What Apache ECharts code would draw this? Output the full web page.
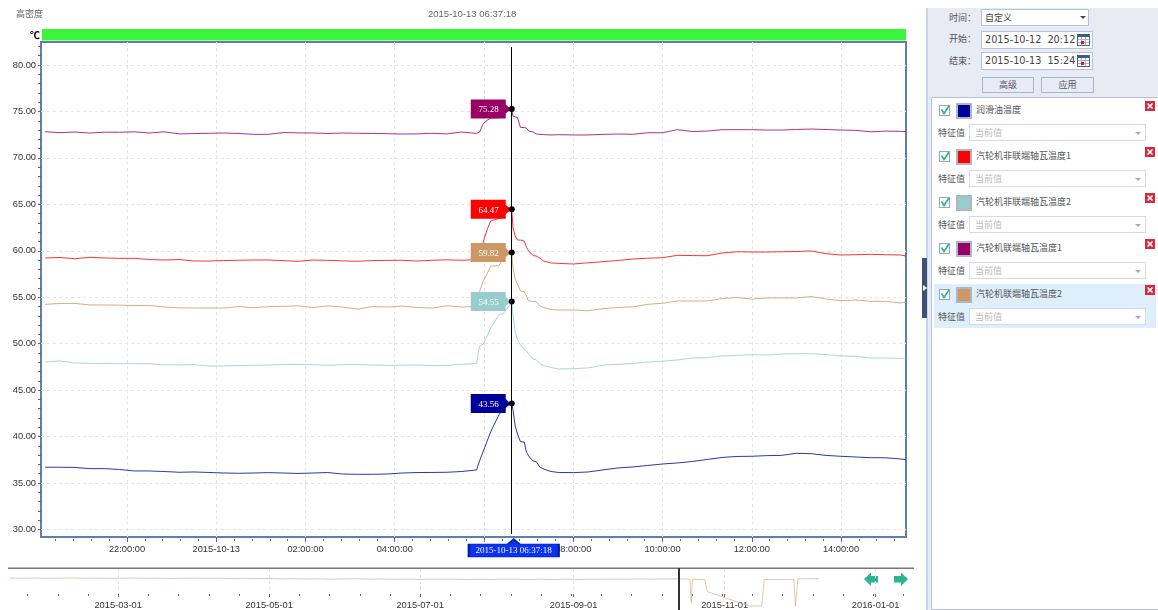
<!DOCTYPE html>
<html>
<head>
<meta charset="utf-8">
<title>高密度</title>
<script src="https://cdn.jsdelivr.net/npm/echarts@6/dist/echarts.min.js"></script>
<style>
  html, body { margin: 0; padding: 0; background: #fff; overflow: hidden; font-family: "Noto Sans CJK SC", sans-serif; }
  #chart { position: absolute; left: 0; top: 0; width: 1158px; height: 610px; }
  #side { position: absolute; left: 926px; top: 0; width: 232px; height: 610px; color: #555; font-size: 9px; background: #fff; }
  #side div, #side svg { position: absolute; box-sizing: border-box; }
  .strip { left: 0; top: 8px; width: 2px; height: 602px; background: #cdd4e6; }
  .head { left: 2px; top: 8px; width: 230px; height: 602px; background: #e7ebf4; }
  .panel { left: 5px; top: 97px; width: 227px; height: 513px; background: #fff; border: 1px solid #b7c1d9; border-right: 0; }
  .lbl { line-height: 14px; white-space: nowrap; }
  .box { background: #fff; border: 1px solid #b7c1d9; line-height: 15px; padding-left: 3px; white-space: nowrap; color: #444; }
  .btn { background: #e7ebf4; border: 1px solid #aab5cc; text-align: center; line-height: 14px; color: #556; }
  .caret { width: 0; height: 0; border-left: 3px solid transparent; border-right: 3px solid transparent; border-top: 3px solid #445; }
  .cal { width: 13px; height: 12px; border: 1px solid #50678f; border-top: 3px solid #3e5a8c;
         background: repeating-linear-gradient(90deg, transparent 0 3px, #a9b6cc 3px 4px), repeating-linear-gradient(0deg, #fff 0 2px, #a9b6cc 2px 3px); }
  .red { width: 3px; height: 3px; background: #e11; }
  .row { left: 8px; width: 222px; height: 44px; }
  .row.on { background: #deeefa; }
  .pick { background: #fff; border: 1px solid #d5d9e8; color: #bbb; line-height: 15px; padding-left: 5px; white-space: nowrap; }
  .on .pick { background: #eef6fd; border-color: #ccd3e0; }
  .grip { left: -4px; top: 258px; width: 5px; height: 60px; background: #3e5075; }
</style>
</head>
<body>
<div id="chart"></div>
<div id="side"></div>
<script>
// sampled clock times of the zoomed window, 20:xx and later belong to 10-12
var times = ['20:10','20:30','20:50','21:10','21:30','21:50','22:10','22:30','22:50','23:10',
  '23:30','23:50','00:10','00:30','00:50','01:10','01:30','01:50','02:10','02:30',
  '02:50','03:10','03:30','03:50','04:10','04:30','04:50','05:10','05:30','05:50',
  '05:54','05:59','06:04','06:09','06:20','06:25','06:30','06:37:18','06:39','06:42',
  '06:45','06:49','06:54','06:57','07:00','07:06','07:10','07:15','07:20','07:30',
  '07:40','08:00','08:20','08:40','09:00','09:20','09:40','10:00','10:20','10:40',
  '11:00','11:20','11:40','12:00','12:20','12:40','13:00','13:20','13:40','14:00',
  '14:20','14:40','15:00','15:20','15:27'];

var oilTemp = [36.70,36.70,36.68,36.55,36.55,36.46,36.30,36.30,36.24,36.16,
  36.19,36.14,36.08,36.05,36.08,36.12,36.08,36.03,36.08,36.13,
  35.97,35.94,35.94,35.97,36.08,36.13,36.14,36.16,36.24,36.41,
  37.37,38.41,39.47,40.51,42.33,42.97,43.29,43.56,42.86,41.14,
  40.28,39.45,39.42,38.34,37.91,37.37,37.32,36.73,36.51,36.24,
  36.14,36.12,36.19,36.41,36.62,36.73,36.89,37.05,37.16,37.32,
  37.54,37.75,37.86,37.88,37.95,37.98,38.20,38.16,37.97,37.88,
  37.80,37.73,37.72,37.59,37.51];
var freeEnd1 = [59.23,59.28,59.15,59.30,59.23,59.19,59.19,59.06,59.01,59.06,
  58.90,58.90,58.95,58.98,59.01,59.01,58.94,58.87,59.01,58.97,
  58.92,58.87,58.95,58.97,58.98,58.90,58.98,59.03,58.98,59.06,
  59.55,60.95,62.24,63.21,63.48,63.64,64.07,64.47,62.45,61.59,
  61.16,61.16,61.05,60.41,59.98,59.49,59.44,59.23,58.90,58.69,
  58.65,58.58,58.71,58.83,58.96,59.12,59.20,59.26,59.51,59.49,
  59.47,59.76,59.90,59.87,59.87,59.90,59.93,59.98,59.69,59.55,
  59.58,59.62,59.58,59.55,59.44];
var freeEnd2 = [48.03,48.14,47.92,47.89,47.87,47.85,47.85,47.84,47.73,47.71,
  47.76,47.60,47.60,47.65,47.67,47.71,47.75,47.77,47.75,47.67,
  47.74,47.75,47.71,47.67,47.69,47.71,47.63,47.67,47.78,47.87,
  49.75,49.97,50.83,51.69,53.09,53.20,53.63,54.55,53.09,51.26,
  50.40,49.86,49.43,49.21,48.89,48.35,48.30,47.87,47.65,47.44,
  47.28,47.31,47.39,47.69,47.78,47.85,48.03,48.11,48.25,48.46,
  48.50,48.68,48.73,48.82,48.78,48.89,48.92,48.92,48.83,48.68,
  48.65,48.46,48.46,48.43,48.43];
var coupledEnd1 = [72.82,72.72,72.79,72.68,72.77,72.76,72.81,72.68,72.81,72.59,
  72.62,72.65,72.68,72.63,72.54,72.54,72.73,72.70,72.68,72.63,
  72.68,72.65,72.63,72.61,72.57,72.59,72.65,72.59,72.79,72.64,
  72.79,73.70,74.03,74.30,74.32,74.62,74.94,75.28,74.51,74.43,
  74.35,73.29,73.27,73.22,72.90,72.79,72.59,72.54,72.51,72.47,
  72.50,72.47,72.47,72.54,72.57,72.54,72.71,72.71,73.04,72.84,
  72.89,73.04,73.04,73.04,73.00,73.00,73.06,73.11,73.06,73.00,
  72.97,72.81,72.89,72.86,72.82];
var coupledEnd2 = [54.24,54.33,54.34,54.17,54.17,54.15,54.10,54.12,53.95,53.86,
  53.84,53.84,53.84,54.00,53.88,53.99,54.02,54.08,53.90,54.06,
  53.95,53.73,54.00,53.95,54.04,53.90,53.84,54.08,53.95,54.02,
  55.57,56.75,57.50,58.36,58.40,59.12,59.44,59.82,58.15,56.96,
  56.42,55.67,55.62,55.14,54.60,54.56,54.54,54.06,53.90,53.68,
  53.63,53.63,53.54,53.77,53.90,53.97,54.24,54.35,54.60,54.60,
  54.60,54.86,54.97,54.81,54.92,54.92,54.92,55.08,54.81,54.63,
  54.70,54.56,54.56,54.38,54.49];

// overview strip: only the last series, month-day of 2015, some with an hour
var overviewTimes = ['01-16','01-21','01-26','01-31','02-05','02-10','02-15','02-20','02-25',
  '03-02','03-07','03-12','03-17','03-22','03-27','04-01','04-06','04-11','04-16','04-21','04-26',
  '05-01','05-06','05-11','05-16','05-21','05-26','05-31','06-05','06-10','06-15','06-20','06-25','06-30',
  '07-05','07-10','07-15','07-20','07-25','07-30','08-04','08-09','08-14','08-19','08-24','08-29',
  '09-03','09-08','09-13','09-18','09-23','09-28','10-03','10-08','10-13',
  '10-18T00','10-18T12','10-19T00','10-24T00','10-25T00','11-11T00','11-16T00','11-17T00',
  '11-29T00','11-29T14','11-30T05','11-30T15','12-09T00'];
var overviewValues = [54.0,53.7,54.1,53.6,53.9,54.2,53.7,54.0,53.5,53.8,
  54.1,53.6,53.9,53.4,53.7,54.0,53.5,53.8,53.3,53.6,
  53.2,53.5,52.9,53.2,52.7,53.0,52.5,52.8,53.1,52.6,
  52.9,52.4,52.7,52.3,52.8,52.4,52.6,52.1,52.5,52.2,
  52.7,52.4,52.0,52.5,52.2,52.6,52.3,52.7,52.4,52.8,
  52.5,52.9,52.6,52.8,53.0,
  52.6,24.0,52.6,52.0,37.4,20.0,20.0,52.0,52.4,20.0,20.0,53.0,53.2];

var seriesNames = ['润滑油温度','汽轮机非联端轴瓦温度1','汽轮机非联端轴瓦温度2','汽轮机联端轴瓦温度1','汽轮机联端轴瓦温度2'];
var seriesColors = ['#000099','#ff0000','#99cccc','#990066','#cc9966'];
var seriesValues = [oilTemp, freeEnd1, freeEnd2, coupledEnd1, coupledEnd2];

var cursorLabel = '2015-10-13 06:37:18';
var yTickLabels = [30,35,40,45,50,55,60,65,70,75,80];
var xTickTimes = ['22:00','00:00','02:00','04:00','06:00','08:00','10:00','12:00','14:00'];
var overviewTicks = ['2015-03-01','2015-05-01','2015-07-01','2015-09-01','2015-11-01','2016-01-01'];

function toTime(s) {
  var hour = parseInt(s.slice(0, 2), 10);
  var day = hour >= 20 ? '2015-10-12' : '2015-10-13';
  return +new Date(day + 'T' + (s.length === 5 ? s + ':00' : s));
}
function toDay(s) {
  if (s.indexOf('T') > 0) return +new Date('2015-' + s + ':00:00');
  return +new Date((s.length === 5 ? '2015-' + s : s) + 'T00:00:00');
}

var cursorTime = toTime('06:37:18');
var cursorIndex = times.indexOf('06:37:18');
var xMin = +new Date('2015-10-12T20:04:24');
var xMax = +new Date('2015-10-13T15:27:22');
var ovMin = +new Date('2015-01-15T12:00:00');
var ovMax = +new Date('2016-01-16T12:00:00');

var xMajor = xTickTimes.map(toTime);
var xMinor = [];
for (var t = toTime('20:24'); t < xMax; t += 24 * 60000) xMinor.push(t);
var yMinor = [];
for (var v = 30; v <= 82; v++) yMinor.push(v);
var ovMajor = overviewTicks.map(toDay);
var ovMinor = [];
var ovStep = (ovMajor[1] - ovMajor[0]) / 5;
for (var m = ovMajor[0] - 4 * ovStep; m < ovMax; m += ovStep) ovMinor.push(m);

var axisFont = { color: '#333', fontSize: 9.3, fontFamily: '"Liberation Sans", Arial, sans-serif' };
var gridDash = { color: '#e4e4e4', type: [3, 3] };

function flagPoint(value, color) {
  return {
    coord: [cursorTime, value],
    symbol: 'path://M0 0H35V5L40 9.5L35 14V19H0Z',
    symbolSize: [40, 19],
    symbolOffset: [-21, 0],
    itemStyle: { color: color },
    label: {
      show: true,
      formatter: value.toFixed(2),
      color: '#fff',
      fontSize: 9,
      fontFamily: '"Liberation Serif", serif',
      position: 'inside',
      offset: [-2, 1]
    }
  };
}

var mainSeries = seriesValues.map(function (vals, idx) {
  var peak = vals[cursorIndex];
  return {
    name: seriesNames[idx],
    type: 'line',
    xAxisIndex: 0,
    yAxisIndex: 0,
    data: times.map(function (s, i) { return [toTime(s), vals[i]]; }),
    showSymbol: false,
    lineStyle: { color: seriesColors[idx], width: 1, opacity: 0.8 },
    itemStyle: { color: seriesColors[idx] },
    markPoint: {
      silent: true,
      data: [
        flagPoint(peak, seriesColors[idx]),
        { coord: [cursorTime, peak], symbol: 'circle', symbolSize: 6, itemStyle: { color: '#000' }, label: { show: false } }
      ]
    }
  };
});

// the cursor line and its time badge hang on the first series
mainSeries[0].markLine = {
  silent: true,
  symbol: 'none',
  label: { show: false },
  lineStyle: { color: '#000', width: 1, type: 'solid', opacity: 1 },
  data: [[{ coord: [cursorTime, 81.94] }, { coord: [cursorTime, 29.52] }]]
};
mainSeries[0].markPoint.data.push({
  coord: [cursorTime, 29.19],
  symbol: 'path://M0 5H39L45 0L51 5H90V18H0Z',
  symbolSize: [90, 18],
  symbolOffset: [2, 11],
  itemStyle: { color: '#0a32f5', borderColor: '#00209a', borderWidth: 1 },
  label: {
    show: true,
    formatter: cursorLabel,
    color: '#fff',
    fontSize: 9,
    fontFamily: '"Liberation Serif", serif',
    position: 'inside',
    offset: [0, 2.5]
  }
});

var overviewSeries = {
  name: seriesNames[4],
  type: 'line',
  xAxisIndex: 2,
  yAxisIndex: 2,
  data: overviewTimes.map(function (s, i) { return [toDay(s), overviewValues[i]]; }),
  showSymbol: false,
  lineStyle: { color: seriesColors[4], width: 1, opacity: 0.55 },
  markLine: {
    silent: true,
    symbol: 'none',
    label: { show: false },
    lineStyle: { color: '#333', width: 2, type: 'solid', opacity: 1 },
    data: [[{ coord: [cursorTime, 66.2] }, { coord: [cursorTime, 15.2] }]]
  }
};

var chart = echarts.init(document.getElementById('chart'));
chart.setOption({
  animation: false,
  grid: [
    { left: 41, top: 42, width: 865, height: 495, show: true, borderColor: '#5f7ea8', borderWidth: 2, backgroundColor: '#fff' },
    { left: 8, top: 568, width: 906, height: 42 },
    { left: 8, top: 569, width: 906, height: 25 }
  ],
  xAxis: [
    {
      type: 'value', gridIndex: 0, min: xMin, max: xMax, position: 'bottom',
      axisLine: { show: false },
      axisTick: { show: true, length: 5, customValues: xMajor, lineStyle: { color: '#667' } },
      axisLabel: {
        show: true,
        customValues: xMajor.filter(function (m) { return m !== toTime('06:00'); }),
        margin: 8,
        hideOverlap: false,
        formatter: function (val) {
          var text = echarts.time.format(val, '{HH}:{mm}:{ss}', false);
          return text === '00:00:00' ? echarts.time.format(val, '{yyyy}-{MM}-{dd}', false) : text;
        },
        color: axisFont.color, fontSize: axisFont.fontSize, fontFamily: axisFont.fontFamily
      },
      splitLine: { show: true, lineStyle: gridDash }
    },
    {
      type: 'value', gridIndex: 0, min: xMin, max: xMax, position: 'bottom', offset: 2,
      axisLine: { show: false },
      axisTick: { show: true, length: 2, customValues: xMinor, lineStyle: { color: '#667' } },
      axisLabel: { show: false },
      splitLine: { show: false }
    },
    { type: 'value', gridIndex: 1, min: ovMin, max: ovMax, show: false, splitLine: { show: false } },
    {
      type: 'value', gridIndex: 2, min: ovMin, max: ovMax, position: 'bottom',
      axisLine: { show: false },
      axisTick: { show: true, length: 3, customValues: ovMajor, lineStyle: { color: '#667' } },
      axisLabel: {
        show: true,
        customValues: ovMajor,
        margin: 7,
        hideOverlap: false,
        formatter: function (val) { return echarts.time.format(val, '{yyyy}-{MM}-{dd}', false); },
        color: axisFont.color, fontSize: axisFont.fontSize, fontFamily: axisFont.fontFamily
      },
      splitLine: { show: true, lineStyle: gridDash }
    },
    {
      type: 'value', gridIndex: 2, min: ovMin, max: ovMax, position: 'bottom',
      axisLine: { show: false },
      axisTick: { show: true, length: 2, customValues: ovMinor, lineStyle: { color: '#667' } },
      axisLabel: { show: false },
      splitLine: { show: false }
    }
  ],
  yAxis: [
    {
      type: 'value', gridIndex: 0, min: 29.19, max: 82.48, position: 'left',
      axisLine: { show: false },
      axisTick: { show: true, length: 3, customValues: yTickLabels, lineStyle: { color: '#667' } },
      axisLabel: {
        show: true,
        customValues: yTickLabels,
        margin: 5,
        formatter: function (val) { return val.toFixed(2); },
        color: axisFont.color, fontSize: axisFont.fontSize, fontFamily: axisFont.fontFamily
      },
      splitLine: { show: true, lineStyle: gridDash }
    },
    {
      type: 'value', gridIndex: 0, min: 29.19, max: 82.48, position: 'left',
      axisLine: { show: false },
      axisTick: { show: true, length: 3, customValues: yMinor, lineStyle: { color: '#667' } },
      axisLabel: { show: false },
      splitLine: { show: false }
    },
    { type: 'value', gridIndex: 1, min: 15.1, max: 66.2, show: false, splitLine: { show: false } },
    { type: 'value', gridIndex: 2, min: 0, max: 1, show: false, splitLine: { show: false } }
  ],
  series: mainSeries.concat([overviewSeries]),
  graphic: [
    { type: 'text', left: 16, top: 9, style: { text: '高密度', fill: '#666', fontSize: 9, fontFamily: '"Noto Sans CJK SC"' } },
    { type: 'text', left: 428, top: 9, style: { text: cursorLabel, fill: '#666', fontSize: 9.5, fontFamily: '"Liberation Sans", sans-serif' } },
    { type: 'text', left: 30, top: 30, style: { text: '℃', fill: '#000', fontSize: 10, fontWeight: 'bold', fontFamily: '"Noto Sans CJK SC"' } },
    { type: 'rect', left: 42, top: 29, shape: { width: 864, height: 11.5 }, style: { fill: '#3df53d' } },
    { type: 'rect', left: 8, top: 567.5, shape: { width: 906, height: 1.5 }, style: { fill: '#777' } },
    { type: 'polygon', shape: { points: [[864, 579], [871, 572.5], [871, 576], [878, 576], [878, 582.5], [871, 582.5], [871, 586]] }, style: { fill: '#2bb592' } },
    { type: 'polygon', shape: { points: [[908, 579], [901, 572.5], [901, 576], [894, 576], [894, 582.5], [901, 582.5], [901, 586]] }, style: { fill: '#2bb592' } }
  ]
});

// right hand panel
var caret = function (left, top) { return '<div class="caret" style="left:' + left + 'px;top:' + top + 'px"></div>'; };
var html = '<div class="strip"></div><div class="head"></div>' +
  '<div class="lbl" style="left:23px;top:11px">时间：</div>' +
  '<div class="box" style="left:55px;top:9px;width:108px;height:17px">自定义</div>' + caret(154, 16) +
  '<div class="lbl" style="left:23px;top:32px">开始：</div>' +
  '<div class="box" style="left:55px;top:31px;width:112px;height:18px;font:9.7px \'DejaVu Sans\';line-height:16px">2015-10-12&nbsp;&nbsp;20:12</div>' +
  '<div class="cal" style="left:151px;top:34px"></div><div class="red" style="left:155px;top:41px"></div>' +
  '<div class="lbl" style="left:23px;top:54px">结束：</div>' +
  '<div class="box" style="left:55px;top:52px;width:112px;height:18px;font:9.7px \'DejaVu Sans\';line-height:16px">2015-10-13&nbsp;&nbsp;15:24</div>' +
  '<div class="cal" style="left:151px;top:55px"></div><div class="red" style="left:155px;top:62px"></div>' +
  '<div class="btn" style="left:56px;top:77px;width:52px;height:16px">高级</div>' +
  '<div class="btn" style="left:115px;top:77px;width:53px;height:16px">应用</div>' +
  '<div class="panel"></div><div class="grip"></div>' +
  '<svg style="left:-3px;top:285px" width="4" height="6"><path d="M0 0L4 3L0 6Z" fill="#fff"/></svg>';

seriesNames.forEach(function (name, i) {
  var top = 101 + i * 46;
  html += '<div class="row' + (i === 4 ? ' on' : '') + '" style="top:' + (top + (i === 4 ? -1 : 0)) + 'px"></div>' +
    '<svg style="left:13px;top:' + (top + 4) + 'px" width="11" height="11"><rect x=".5" y=".5" width="10" height="10" fill="#fff" stroke="#9aa6bd"/><path d="M2.5 4.5L5 8.5L10 1" fill="none" stroke="#22b58a" stroke-width="1.6"/></svg>' +
    '<div style="left:30px;top:' + (top + 2) + 'px;width:16px;height:16px;background:' + seriesColors[i] + ';border:2px solid #aeb6c6"></div>' +
    '<div class="lbl" style="left:50px;top:' + (top + 2) + 'px">' + name + '</div>' +
    '<svg style="left:219px;top:' + top + 'px" width="10" height="10"><rect width="10" height="10" fill="#d9283c"/><path d="M2.5 2.5L7.5 7.5M7.5 2.5L2.5 7.5" stroke="#fff" stroke-width="1.6"/></svg>' +
    '<div class="lbl" style="left:12px;top:' + (top + 25) + 'px">特征值</div>' +
    '<div class="pick" style="left:43px;top:' + (top + 23) + 'px;width:177px;height:17px">当前值</div>' +
    '<div class="caret" style="left:209px;top:' + (top + 31) + 'px;border-top-color:#aab"></div>';
});
document.getElementById('side').innerHTML = html;
</script>
</body>
</html>
